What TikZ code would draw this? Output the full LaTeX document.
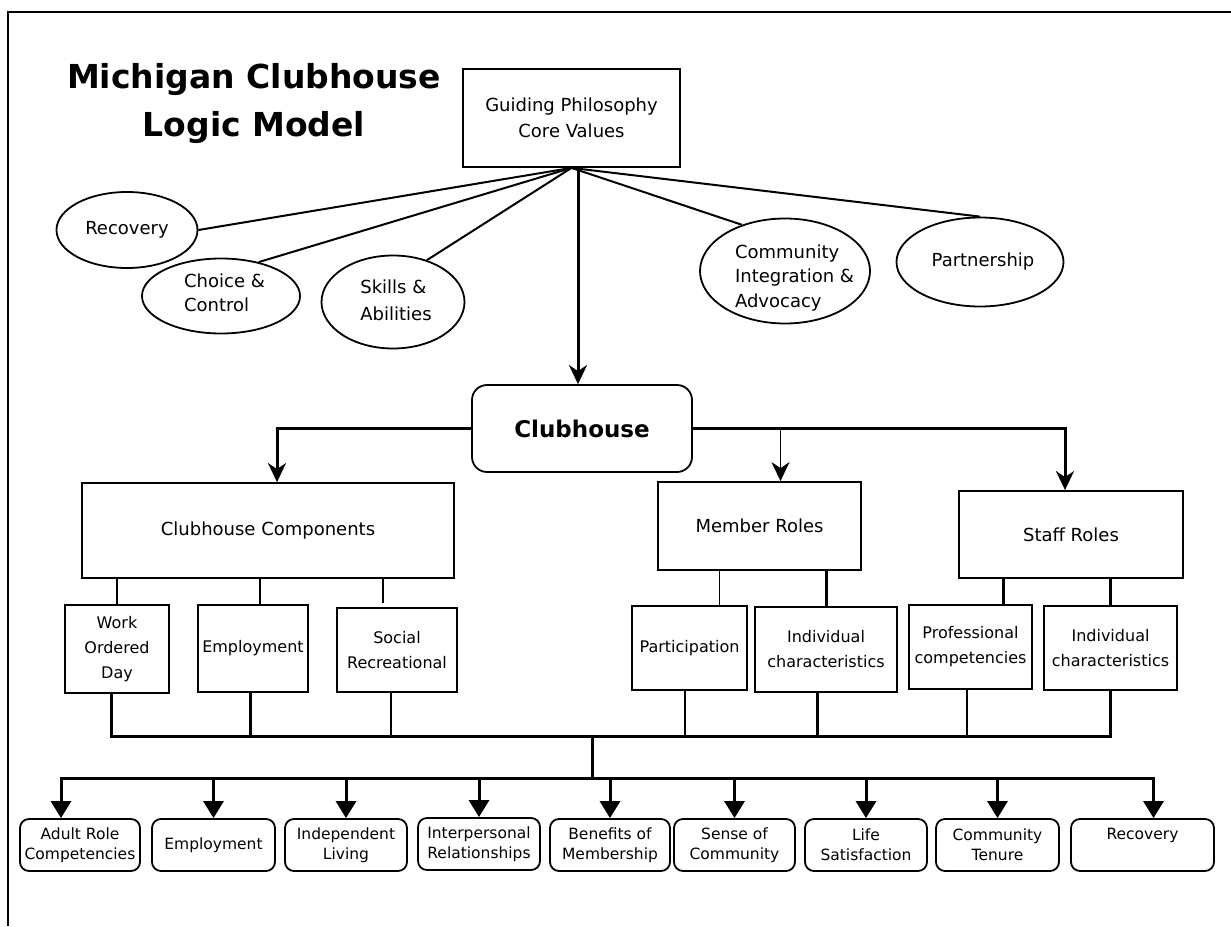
\documentclass[tikz,border=0pt]{standalone}
\usepackage{fontspec}
\setmainfont{DejaVu Sans}
\usetikzlibrary{shapes.geometric,arrows.meta}

\begin{document}
\begin{tikzpicture}[x=1pt, y=-1pt,
  every node/.style={inner sep=0pt, align=center, font=\fontsize{18}{26}\selectfont},
  box/.style={draw, line width=1.8pt},
  oval/.style={draw, ellipse, line width=1.8pt},
  subbox/.style={draw, line width=1.8pt, font=\fontsize{16}{25}\selectfont},
  outcome/.style={draw, rounded corners=9pt, line width=1.8pt, minimum height=52pt,
    font=\fontsize{15.5}{20}\selectfont},
  fan/.style={line width=2pt},
  link/.style={line width=3pt},
  thinlink/.style={line width=1.5pt},
  down/.style={link, -{Stealth[length=19pt, width=18pt, inset=6pt]}},
  tri/.style={link, -{Triangle[length=17pt, width=20pt]}}]
  \useasboundingbox (0,0) rectangle (1231,926);
  \draw[line width=2pt] (1231,12) -- (8,12) -- (8,926);

  % title and core values
  \node[font=\fontsize{33}{48}\selectfont\bfseries] (title) at (254,104) {Michigan Clubhouse\\Logic Model};
  \node[box, minimum width=217pt, minimum height=98pt] (guide) at (571.5,118) {Guiding Philosophy\\Core Values};

  \node[oval, minimum width=141pt, minimum height=76pt] (rec) at (127,230) {};
  \node (rectext) at (rec) {Recovery};
  \node[oval, minimum width=158pt, minimum height=75pt] (choice) at (221,296) {};
  \node[align=left, font=\fontsize{18}{24}\selectfont] (choicetext) at (224.5,293) {Choice \&\\Control};
  \node[oval, minimum width=143pt, minimum height=93pt] (skills) at (393,302) {};
  \node[align=left, font=\fontsize{18}{27}\selectfont] (skillstext) at (396,300) {Skills \&\\Abilities};
  \node[oval, minimum width=170pt, minimum height=105pt] (comm) at (785,271) {};
  \node[align=left, font=\fontsize{18}{24.5}\selectfont] (commtext) at (794.5,278) {Community\\Integration \&\\Advocacy};
  \node[oval, minimum width=167pt, minimum height=89pt] (partner) at (980,262) {};
  \node (partnertext) at (983,262) {Partnership};

  \draw[fan] (guide.south) -- (rec.east);
  \draw[fan] (guide.south) -- (choice.42);
  \draw[fan] (guide.south) -- (skills.51);
  \draw[fan] (guide.south) -- (comm.133);
  \draw[fan] (guide.south) -- (partner.north);

  % clubhouse and its three branches
  \node[box, rounded corners=15pt, minimum width=220pt, minimum height=87pt,
    font=\fontsize{23}{28}\selectfont\bfseries] (club) at (582,428.5) {Clubhouse};
  \draw[down] ([xshift=-4pt]club.north |- guide.south) -- ([xshift=-4pt]club.north);

  \node[box, minimum width=372pt, minimum height=95pt] (comp) at (268,530.5) {Clubhouse Components};
  \node[box, minimum width=203pt, minimum height=88pt] (mem) at (759.5,526) {Member Roles};
  \node[box, minimum width=224pt, minimum height=87pt] (staff) at (1071,534.5) {Staff Roles};

  \draw[down] (club.west) -| ([xshift=9pt]comp.north);
  \draw[down] (club.east) -| ([xshift=-6pt]staff.north);
  \draw[down, line width=1.8pt] ([xshift=21pt]mem.north |- club.east) -- ([xshift=21pt]mem.north);

  \node[subbox, minimum width=104pt, minimum height=88pt] (wod) at (117,649) {Work\\Ordered\\Day};
  \node[subbox, minimum width=110pt, minimum height=87pt] (emp) at (253,648.5) {Employment};
  \node[subbox, minimum width=120pt, minimum height=84pt] (soc) at (397,650) {Social\\Recreational};
  \node[subbox, minimum width=115pt, minimum height=84pt] (partic) at (689.5,648) {Participation};
  \node[subbox, minimum width=142pt, minimum height=85pt] (ind1) at (826,649.5) {Individual\\characteristics};
  \node[subbox, minimum width=123pt, minimum height=84pt] (prof) at (970.5,647) {Professional\\competencies};
  \node[subbox, minimum width=133pt, minimum height=84pt] (ind2) at (1110.5,648) {Individual\\characteristics};

  \draw[thinlink] (wod.north) -- (wod.north |- comp.south);
  \draw[thinlink] ([xshift=7pt]emp.north) -- ([xshift=7pt]emp.north |- comp.south);
  \draw[thinlink] ([xshift=-14pt,yshift=4pt]soc.north) -- ([xshift=-14pt]soc.north |- comp.south);
  \draw[thinlink] ([xshift=30pt]partic.north) -- ([xshift=30pt]partic.north |- mem.south);
  \draw[link] (ind1.north) -- (ind1.north |- mem.south);
  \draw[link] ([xshift=33pt]prof.north) -- ([xshift=33pt]prof.north |- staff.south);
  \draw[link] (ind2.north) -- (ind2.north |- staff.south);

  % collecting bus
  \coordinate (bus) at (592,736);
  \coordinate (fork) at (592,778);
  \draw[link] ([xshift=-6pt]wod.south) |- (ind2.south |- bus) -- (ind2.south);
  \draw[link] ([xshift=-3pt]emp.south) -- ([xshift=-3pt]emp.south |- bus);
  \draw[thinlink] ([xshift=-6pt]soc.south) -- ([xshift=-6pt]soc.south |- bus);
  \draw[thinlink] ([xshift=-4.5pt]partic.south) -- ([xshift=-4.5pt]partic.south |- bus);
  \draw[link] ([xshift=-9pt]ind1.south) -- ([xshift=-9pt]ind1.south |- bus);
  \draw[thinlink] ([xshift=-3.5pt]prof.south) -- ([xshift=-3.5pt]prof.south |- bus);
  \draw[link] (bus) -- (fork);

  % outcomes
  \node[outcome, minimum width=120pt] (o1) at (80,845) {Adult Role\\Competencies};
  \node[outcome, minimum width=123pt] (o2) at (213.5,845) {Employment};
  \node[outcome, minimum width=122pt] (o3) at (346,845) {Independent\\Living};
  \node[outcome, minimum width=122pt] (o4) at (479,844) {Interpersonal\\Relationships};
  \node[outcome, minimum width=120pt] (o5) at (610,845) {Benefits of\\Membership};
  \node[outcome, minimum width=121pt] (o6) at (734.5,845) {Sense of\\Community};
  \node[outcome, minimum width=122pt] (o7) at (866,845) {Life\\Satisfaction};
  \node[outcome, minimum width=123pt] (o8) at (997.5,845) {Community\\Tenure};
  \node[outcome, minimum width=143pt] (o9) at (1142.5,845) {Recovery\\\phantom{Ty}};

  \draw[tri] (fork) -| ([xshift=-19pt]o1.north);
  \draw[tri] (fork) -| ([xshift=11pt]o9.north);
  \draw[tri] (o2.north |- fork) -- (o2.north);
  \draw[tri] (o3.north |- fork) -- (o3.north);
  \draw[tri] (o4.north |- fork) -- (o4.north);
  \draw[tri] (o5.north |- fork) -- (o5.north);
  \draw[tri] (o6.north |- fork) -- (o6.north);
  \draw[tri] (o7.north |- fork) -- (o7.north);
  \draw[tri] (o8.north |- fork) -- (o8.north);
\end{tikzpicture}
\end{document}
